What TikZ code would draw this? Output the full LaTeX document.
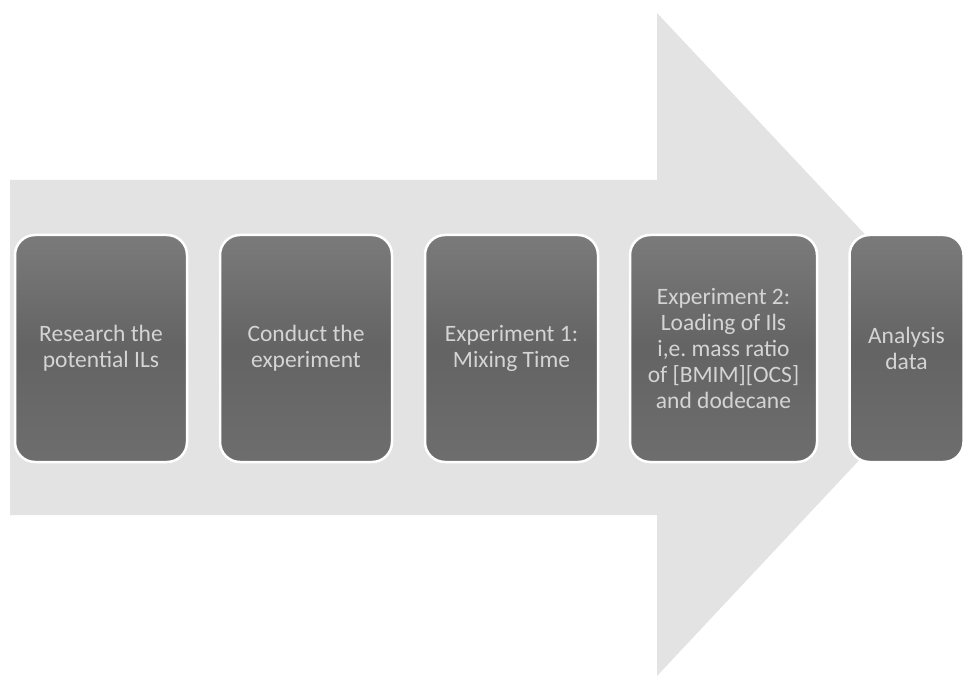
\documentclass[tikz,border=0pt]{standalone}
\usepackage{fontspec}
\setmainfont{Carlito}
\frenchspacing
\begin{document}
\begin{tikzpicture}[x=1pt,y=-1pt,
  stepbox/.style={rounded corners=20pt, draw=white, line width=2.5pt,
    top color=black!52, bottom color=black!57, middle color=black!61,
    text=black!17, align=center, minimum height=227pt,
    font=\fontsize{23.5}{26}\selectfont}]
  \useasboundingbox (0,0) rectangle (964,676);
  \begin{scope}
    \clip (0,0) rectangle (964,676);
    % big process arrow in the background
    \fill[black!11] (10,180) -- (657,180) -- (657,13) -- (968,344)
      -- (657,676) -- (657,515) -- (10,515) -- cycle;
    % process steps
    \node[stepbox, minimum width=172pt] (s1) at (101,348.5)
      {Research the\\potential ILs};
    \node[stepbox, minimum width=172pt] (s2) at (306,348.5)
      {Conduct the\\experiment};
    \node[stepbox, minimum width=173pt] (s3) at (511.5,348.5)
      {Experiment 1:\\Mixing Time};
    \node[stepbox, minimum width=187pt] (s4) at (723.5,348.5)
      {Experiment 2:\\Loading of Ils\\i,e. mass ratio\\of [BMIM][OCS]\\and dodecane};
    \node[stepbox, minimum width=114pt] (s5) at (906.5,348.5)
      {Analysis\\data};
  \end{scope}
\end{tikzpicture}
\end{document}
